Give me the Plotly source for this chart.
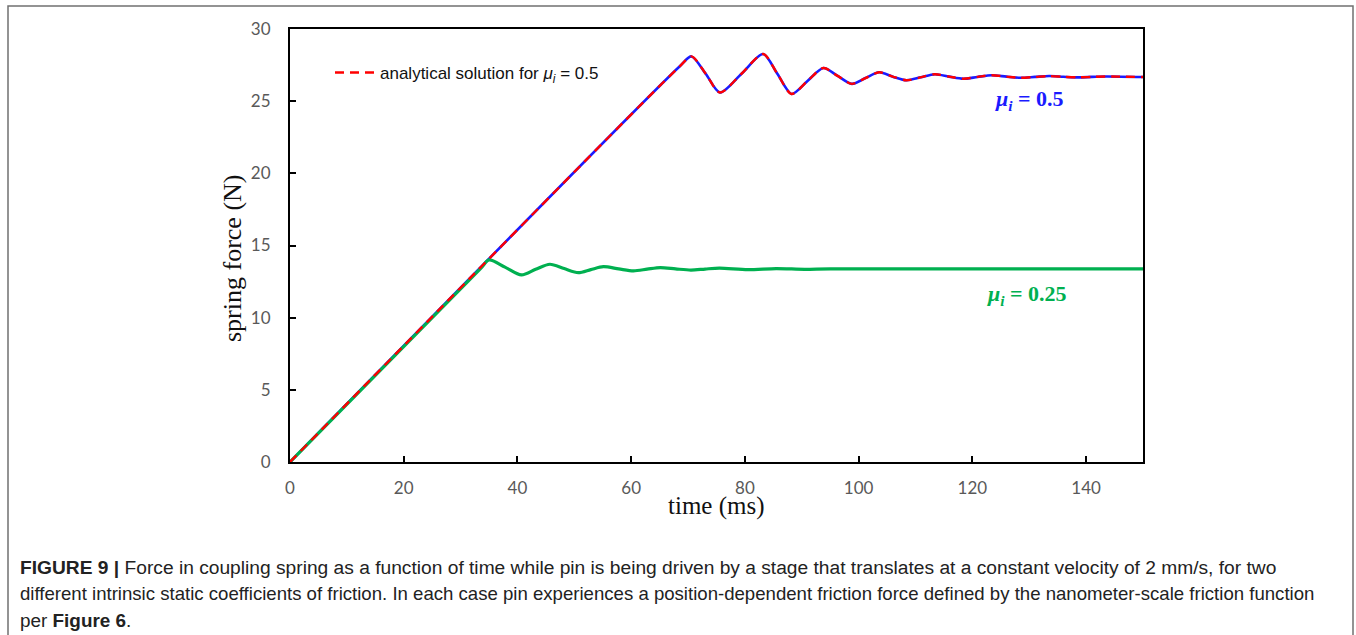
import plotly.graph_objects as go

# ---- data ----
t_mu05 = [0, 68.5, 70.6, 73.1, 75.6, 79.4, 83.2, 85.7, 88.2, 91.0, 93.8, 96.3, 98.8,
          101.2, 103.6, 106.0, 108.4, 110.9, 113.4, 115.9, 118.4, 120.9, 123.4, 126.0,
          128.5, 131.0, 133.5, 136.0, 138.5, 141.0, 143.5, 150]
f_mu05 = [0, 27.4, 28.1, 26.9, 25.6, 26.9, 28.27, 26.9, 25.5, 26.4, 27.3, 26.75, 26.2,
          26.6, 27.0, 26.7, 26.45, 26.65, 26.87, 26.7, 26.55, 26.68, 26.8, 26.7,
          26.62, 26.68, 26.74, 26.69, 26.65, 26.68, 26.71, 26.67]

t_mu025 = [0, 33.5, 35.0, 37.8, 40.7, 43.2, 45.7, 48.2, 50.7, 52.9, 55.1, 57.8, 60.4,
           62.8, 65.1, 67.8, 70.5, 73.0, 75.5, 80.5, 85.5, 90.5, 95.0, 150]
f_mu025 = [0, 13.4, 14.0, 13.5, 12.96, 13.35, 13.7, 13.4, 13.12, 13.33, 13.53, 13.38, 13.24,
           13.36, 13.47, 13.38, 13.3, 13.37, 13.43, 13.33, 13.4, 13.35, 13.38, 13.38]

t_analytic = list(t_mu05)
f_analytic = list(f_mu05)

x_ticks = [0, 20, 40, 60, 80, 100, 120, 140]
y_ticks = [0, 5, 10, 15, 20, 25, 30]

caption_lines = [
    "<b>FIGURE 9 |</b> Force in coupling spring as a function of time while pin is being driven by a stage that translates at a constant velocity of 2 mm/s, for two",
    "different intrinsic static coefficients of friction. In each case pin experiences a position-dependent friction force defined by the nanometer-scale friction function",
    "per <b>Figure 6</b>.",
]
caption_sizes = [19.2, 18.6, 18.9]

L, R, T, B = 290, 213, 29, 173
W, H = 1356, 635
pw, ph = W - L - R, H - T - B

def px(xpix):
    return (xpix - L) / pw

def py(ypix):
    return (H - B - ypix) / ph

fig = go.Figure()
fig.add_trace(go.Scatter(x=t_mu05, y=f_mu05, mode="lines", showlegend=False,
                         line=dict(color="#1a1aff", width=2.6, shape="spline", smoothing=0.8)))
fig.add_trace(go.Scatter(x=t_mu025, y=f_mu025, mode="lines", showlegend=False,
                         line=dict(color="#00b050", width=3.2, shape="spline", smoothing=0.8)))
fig.add_trace(go.Scatter(x=t_analytic, y=f_analytic, mode="lines",
                         name="analytical solution for <i>μ<sub>i</sub></i> = 0.5",
                         line=dict(color="#ff0000", width=2.4, dash="9px,6px",
                                   shape="spline", smoothing=0.8)))

fig.add_annotation(x=130, y=25.1, xref="x", yref="y", showarrow=False,
                   xanchor="center", yanchor="middle",
                   text="<b><i>μ<sub>i</sub></i> = 0.5</b>",
                   font=dict(family="Liberation Serif", size=22, color="#1a1aff"))
fig.add_annotation(x=129.6, y=11.6, xref="x", yref="y", showarrow=False,
                   xanchor="center", yanchor="middle",
                   text="<b><i>μ<sub>i</sub></i> = 0.25</b>",
                   font=dict(family="Liberation Serif", size=22, color="#00b050"))

# axis titles
fig.add_annotation(x=px(232), y=py(258), xref="paper", yref="paper", showarrow=False,
                   xanchor="center", yanchor="middle",
                   text="spring force (N)", textangle=-90,
                   font=dict(family="Liberation Serif", size=26, color="#111"))
fig.add_annotation(x=px(716), y=py(506), xref="paper", yref="paper", showarrow=False,
                   xanchor="center", yanchor="middle",
                   text="time (ms)",
                   font=dict(family="Liberation Serif", size=25, color="#111"))

# caption
for i, line in enumerate(caption_lines):
    fig.add_annotation(x=px(18), y=py(567 + 26.5 * i), xref="paper", yref="paper",
                       xanchor="left", yanchor="middle", showarrow=False, align="left",
                       text=line, font=dict(family="Liberation Sans", size=caption_sizes[i],
                                            color="#222"))

# outer frame
fig.add_shape(type="rect", xref="paper", yref="paper",
              x0=px(8), x1=px(1353), y0=py(645), y1=py(6),
              line=dict(color="#707070", width=1.5), fillcolor="rgba(0,0,0,0)", layer="below")

axis_common = dict(showline=True, linecolor="black", linewidth=2, mirror=True,
                   ticks="inside", ticklen=6, tickwidth=1.5, tickcolor="black",
                   showgrid=False, zeroline=False,
                   tickfont=dict(family="Lato", size=17, color="#595959"))

fig.update_xaxes(range=[0, 150], tickvals=x_ticks, ticktext=[str(v) for v in x_ticks],
                 ticklabelstandoff=10, **axis_common)
fig.update_yaxes(range=[0, 30], tickvals=y_ticks, ticktext=[str(v) for v in y_ticks],
                 ticklabelstandoff=14, **axis_common)

fig.update_layout(
    width=W, height=H,
    margin=dict(l=L, r=R, t=T, b=B, autoexpand=False),
    paper_bgcolor="white", plot_bgcolor="white",
    showlegend=True,
    legend=dict(x=px(330), y=py(73), xanchor="left", yanchor="middle",
                bgcolor="rgba(0,0,0,0)", font=dict(family="Liberation Sans", size=17, color="#111"),
                itemwidth=40),
)

fig.write_html("out.html")
